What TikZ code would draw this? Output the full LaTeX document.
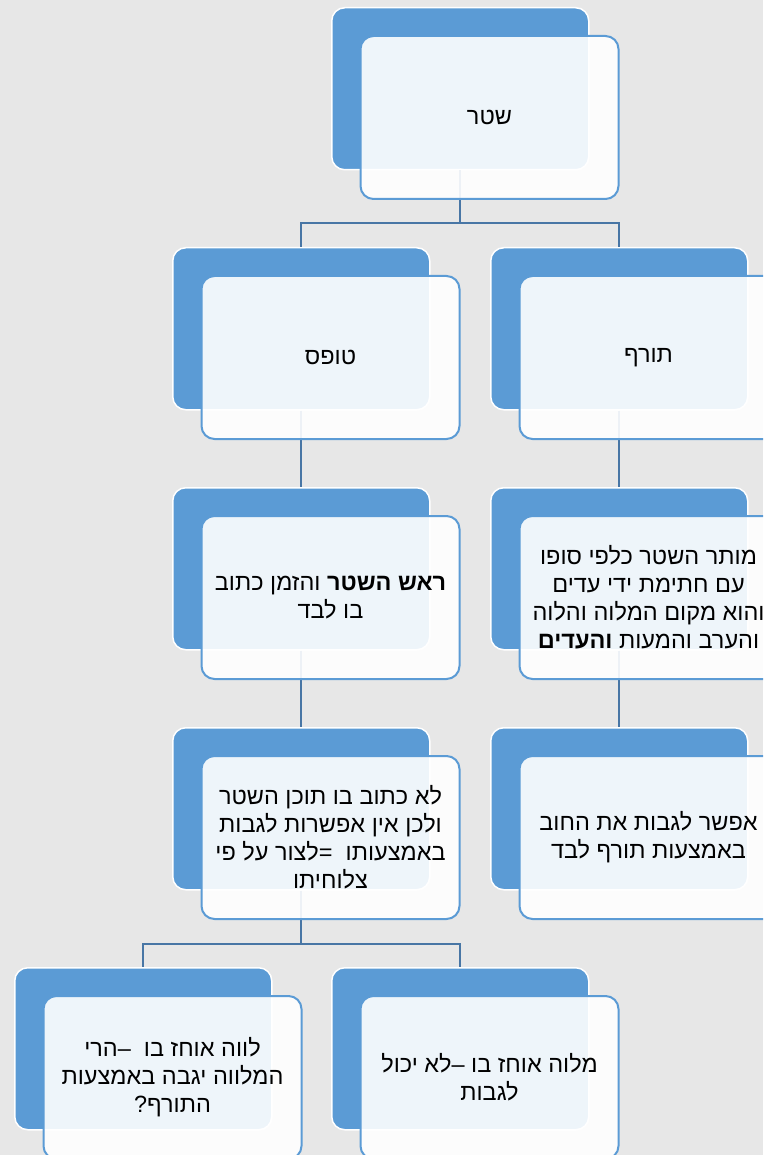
\documentclass[tikz,border=0pt]{standalone}
\usepackage{fontspec}
\newfontfamily\heb[Script=Hebrew]{Liberation Sans}
\TeXXeTstate=1
\usetikzlibrary{calc}
\definecolor{bgc}{RGB}{231,231,231}
\definecolor{boxblue}{RGB}{91,155,213}
\definecolor{connblue}{RGB}{72,118,165}
\begin{document}
\begin{tikzpicture}[x=1pt,y=-1pt,
  backbox/.style={draw=white, line width=1.5pt, fill=boxblue, rounded corners=13pt,
    minimum width=257pt, minimum height=162pt, inner sep=0pt, anchor=north west},
  frontbox/.style={draw=boxblue, line width=2pt, fill=white, fill opacity=0.9,
    text opacity=1, draw opacity=1, rounded corners=13pt,
    minimum width=258pt, minimum height=163pt, inner sep=2pt, anchor=north west,
    align=center, font=\heb\fontsize{23.5}{28}\selectfont, text=black},
  conn/.style={draw=connblue, line width=2pt}]
\fill[bgc] (0,0) rectangle (763,1155);
\clip (0,0) rectangle (763,1155);
% back boxes
\node[backbox] (b1) at (331,7) {};
\node[backbox] (b2) at (172,247) {};
\node[backbox] (b3) at (490,247) {};
\node[backbox] (b4) at (172,487) {};
\node[backbox] (b5) at (490,487) {};
\node[backbox] (b6) at (172,727) {};
\node[backbox] (b7) at (490,727) {};
\node[backbox] (b8) at (14,967) {};
\node[backbox] (b9) at (331,967) {};
% connectors
\coordinate (j1) at ($(b1.south)+(0,53)$);
\coordinate (j2) at ($(b6.south)+(0,53)$);
\draw[conn] (b1.south) -- (j1);
\draw[conn] (j1) -| (b2.north);
\draw[conn] (j1) -| (b3.north);
\draw[conn] (b2.south) -- (b4.north);
\draw[conn] (b3.south) -- (b5.north);
\draw[conn] (b4.south) -- (b6.north);
\draw[conn] (b5.south) -- (b7.north);
\draw[conn] (b6.south) -- (j2);
\draw[conn] (j2) -| (b8.north);
\draw[conn] (j2) -| (b9.north);
% front boxes
\node[frontbox] (f1) at (359.5,35) {\beginR שטר\endR};
\node[frontbox] (f2) at (200.5,275) {\beginR טופס\endR};
\node[frontbox] (f3) at (518.5,275) {\beginR תורף\endR};
\node[frontbox] (f4) at (200.5,515) {\beginR{\bfseries ראש השטר} והזמן כתוב\endR\\\beginR בו לבד\endR};
\node[frontbox] (f5) at (518.5,515) {\beginR מותר השטר כלפי סופו\endR\\\beginR עם חתימת ידי עדים\endR\\\beginR והוא מקום המלוה והלוה\endR\\\beginR והערב והמעות {\bfseries והעדים}\endR};
\node[frontbox] (f6) at (200.5,755) {\beginR לא כתוב בו תוכן השטר\endR\\\beginR ולכן אין אפשרות לגבות\endR\\\beginR באמצעותו~ =לצור על פי\endR\\\beginR צלוחיתו\endR};
\node[frontbox] (f7) at (518.5,755) {\beginR אפשר לגבות את החוב\endR\\\beginR באמצעות תורף לבד\endR};
\node[frontbox] (f8) at (42.5,995) {\beginR לווה אוחז בו~ –הרי\endR\\\beginR המלווה יגבה באמצעות\endR\\\beginR התורף?\endR};
\node[frontbox] (f9) at (359.5,995) {\beginR מלוה אוחז בו –לא יכול\endR\\\beginR לגבות\endR};
\end{tikzpicture}
\end{document}
